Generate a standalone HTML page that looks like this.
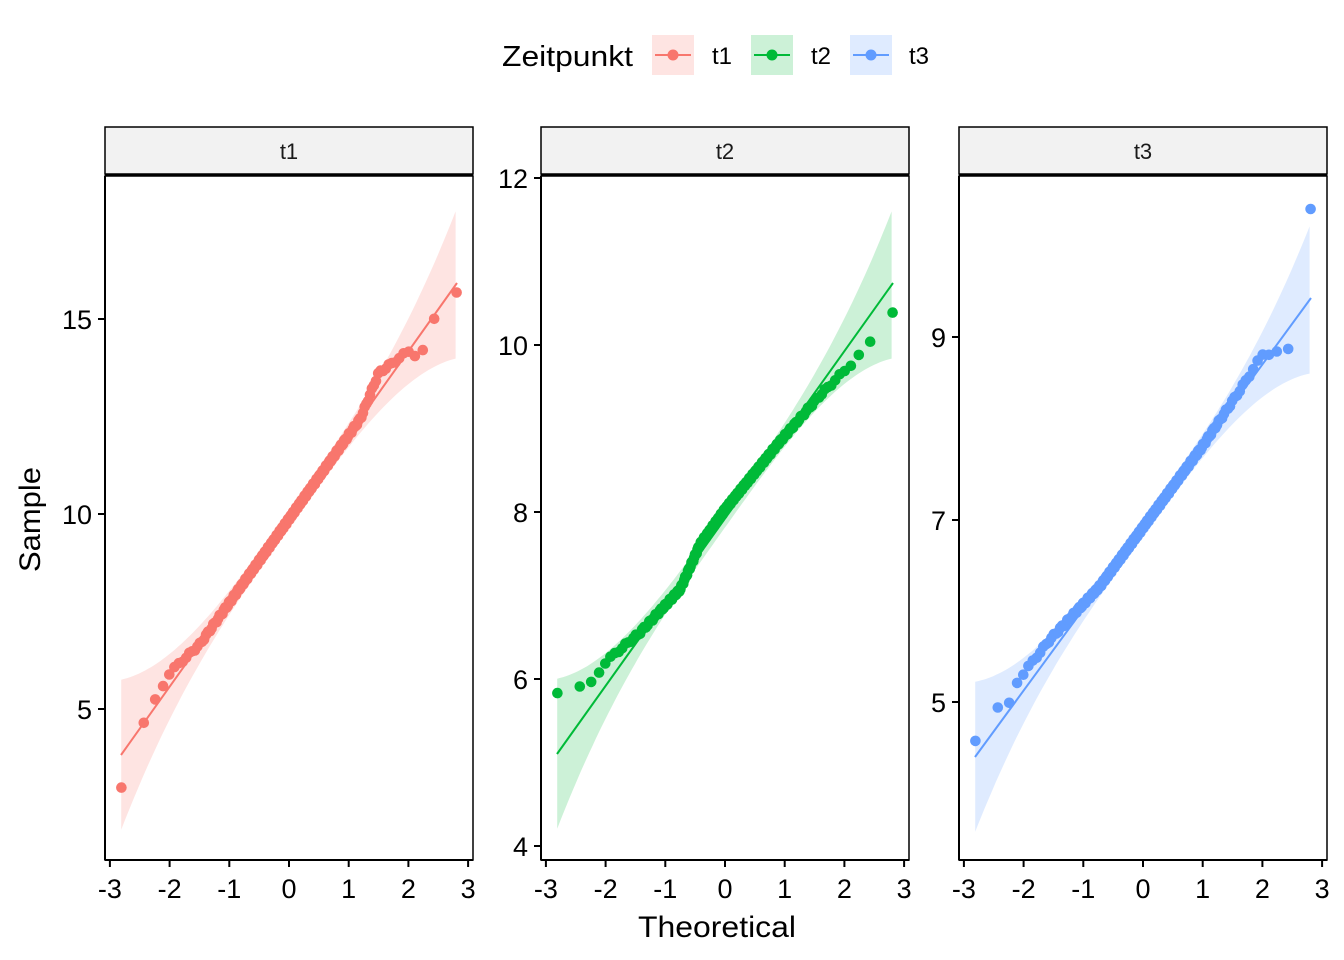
<!DOCTYPE html>
<html><head><meta charset="utf-8"><style>
html,body{margin:0;padding:0;background:#fff;}
svg{display:block;font-family:"Liberation Sans",Arial,sans-serif;}
</style></head><body>
<svg id="s" width="1344" height="960" viewBox="0 0 1344 960" xmlns="http://www.w3.org/2000/svg">
<rect width="1344" height="960" fill="#fff"/>
<text x="502" y="66" font-size="29" textLength="131" lengthAdjust="spacingAndGlyphs" fill="#000">Zeitpunkt</text>
<rect x="652" y="35" width="42" height="40" fill="#F8766D" fill-opacity="0.2"/>
<line x1="655" y1="55" x2="691" y2="55" stroke="#F8766D" stroke-width="2"/><circle cx="673" cy="55" r="5.5" fill="#F8766D"/>
<text x="712" y="64" font-size="24">t1</text>
<rect x="751" y="35" width="42" height="40" fill="#00BA38" fill-opacity="0.2"/>
<line x1="754" y1="55" x2="790" y2="55" stroke="#00BA38" stroke-width="2"/><circle cx="772" cy="55" r="5.5" fill="#00BA38"/>
<text x="811" y="64" font-size="24">t2</text>
<rect x="850" y="35" width="42" height="40" fill="#619CFF" fill-opacity="0.2"/>
<line x1="853" y1="55" x2="889" y2="55" stroke="#619CFF" stroke-width="2"/><circle cx="871" cy="55" r="5.5" fill="#619CFF"/>
<text x="909" y="64" font-size="24">t3</text>
<text x="638" y="937" font-size="30" textLength="158" lengthAdjust="spacingAndGlyphs">Theoretical</text>
<text transform="translate(40,572) rotate(-90)" font-size="30" textLength="105" lengthAdjust="spacingAndGlyphs">Sample</text>
<g id="g"></g>
</svg>
<script>
function qn(p){var a=[-39.6968302866538,220.946098424521,-275.928510446969,138.357751867269,-30.6647980661472,2.50662827745924],b=[-54.4760987982241,161.585836858041,-155.698979859887,66.8013118877197,-13.2806815528857],c=[-0.00778489400243029,-0.322396458041136,-2.40075827716184,-2.54973253934373,4.37466414146497,2.93816398269878],d=[0.00778469570904146,0.32246712907004,2.445134137143,3.75440866190742];var q,r;if(p<0.02425){q=Math.sqrt(-2*Math.log(p));return(((((c[0]*q+c[1])*q+c[2])*q+c[3])*q+c[4])*q+c[5])/((((d[0]*q+d[1])*q+d[2])*q+d[3])*q+1);}if(p>1-0.02425){q=Math.sqrt(-2*Math.log(1-p));return-(((((c[0]*q+c[1])*q+c[2])*q+c[3])*q+c[4])*q+c[5])/((((d[0]*q+d[1])*q+d[2])*q+d[3])*q+1);}q=p-0.5;r=q*q;return(((((a[0]*r+a[1])*r+a[2])*r+a[3])*r+a[4])*r+a[5])*q/(((((b[0]*r+b[1])*r+b[2])*r+b[3])*r+b[4])*r+1);}
function interp(k,z){if(z<=k[0][0])return k[0][1];for(var i=1;i<k.length;i++){if(z<=k[i][0]){var t=(z-k[i-1][0])/(k[i][0]-k[i-1][0]);return k[i-1][1]+t*(k[i][1]-k[i-1][1]);}}return k[k.length-1][1];}
var P=[
{x0:105,x1:473,x0c:289,col:"#F8766D",lx:[121,755,457,283],lab:"t1",
 yt:[[15,319],[10,514],[5,709]],
 dev:[[-2.81,32],[-2.43,0],[-2.0,-14],[-1.5,0],[1.2,0],[1.5,-20],[2.0,0],[2.2,23],[2.43,5],[2.81,8]]},
{x0:541,x1:909,x0c:725,col:"#00BA38",lx:[557,754,893,283],lab:"t2",
 yt:[[12,178],[10,345],[8,512],[6,679],[4,846]],
 dev:[[-2.81,-62],[-2.43,-35],[-2.23,-22],[-2.0,-24],[-1.42,-5],[-0.75,8],[-0.42,-9],[0,-9],[0.92,0],[1.59,10],[2.09,22],[2.43,28],[2.81,28]]},
{x0:959,x1:1327,x0c:1143,col:"#619CFF",lx:[975,757,1311,298],lab:"t3",
 yt:[[9,337],[7,520],[5,702]],
 dev:[[-2.81,-17],[-2.43,-18],[-2.24,-6],[-2.1,-18],[-1.56,-15],[-0.72,0],[1.0,0],[1.63,-5],[2.0,-10],[2.43,21],[2.58,21],[2.81,-92]]}
];
var h="";
P.forEach(function(p){
 var s=59.7;
 function ly(x){return p.lx[1]+(x-p.lx[0])*(p.lx[3]-p.lx[1])/(p.lx[2]-p.lx[0]);}
 var up=[],dn=[];
 for(var z=-2.81;z<=2.811;z+=0.05){var x=p.x0c+z*s,w=9+66*Math.pow(Math.abs(z)/2.81,3);up.push(x.toFixed(1)+","+(ly(x)-w).toFixed(1));dn.unshift(x.toFixed(1)+","+(ly(x)+w).toFixed(1));}
 h+='<polygon points="'+up.concat(dn).join(" ")+'" fill="'+p.col+'" fill-opacity="0.2"/>';
 h+='<line x1="'+p.lx[0]+'" y1="'+p.lx[1]+'" x2="'+p.lx[2]+'" y2="'+p.lx[3]+'" stroke="'+p.col+'" stroke-width="2"/>';
 var n=200;
 for(var i=1;i<=n;i++){var z=qn((i-0.5)/n),x=p.x0c+z*s,y=ly(x)+interp(p.dev,z)+Math.sin(i*1.7)*1.5;
  h+='<circle cx="'+x.toFixed(1)+'" cy="'+y.toFixed(1)+'" r="5.3" fill="'+p.col+'"/>';}
 h+='<rect x="'+p.x0+'" y="176" width="'+(p.x1-p.x0)+'" height="684" fill="none" stroke="#000" stroke-width="1.5"/>';
 h+='<rect x="'+p.x0+'" y="127" width="'+(p.x1-p.x0)+'" height="47" fill="#F2F2F2" stroke="#000" stroke-width="1.5"/>';
 h+='<line x1="'+p.x0+'" y1="175" x2="'+p.x1+'" y2="175" stroke="#000" stroke-width="3"/>';
 h+='<text x="'+((p.x0+p.x1)/2)+'" y="159" font-size="22" text-anchor="middle" fill="#1a1a1a">'+p.lab+'</text>';
 h+='<line x1="'+p.x0+'" y1="860" x2="'+p.x1+'" y2="860" stroke="#000" stroke-width="2"/>';
 h+='<line x1="'+p.x0+'" y1="176" x2="'+p.x0+'" y2="860" stroke="#000" stroke-width="2"/>';
 for(var t=-3;t<=3;t++){var x=p.x0c+t*s;h+='<line x1="'+x+'" y1="860" x2="'+x+'" y2="867" stroke="#000" stroke-width="2"/>';
  h+='<text x="'+x+'" y="898" font-size="27" text-anchor="middle">'+(t<0?"-"+(-t):t)+'</text>';}
 p.yt.forEach(function(v){h+='<line x1="'+(p.x0-7)+'" y1="'+v[1]+'" x2="'+p.x0+'" y2="'+v[1]+'" stroke="#000" stroke-width="2"/>';
  h+='<text x="'+(p.x0-13)+'" y="'+(v[1]+10)+'" font-size="27" text-anchor="end">'+v[0]+'</text>';});
});
document.getElementById("g").innerHTML=h;
</script>
</body></html>
